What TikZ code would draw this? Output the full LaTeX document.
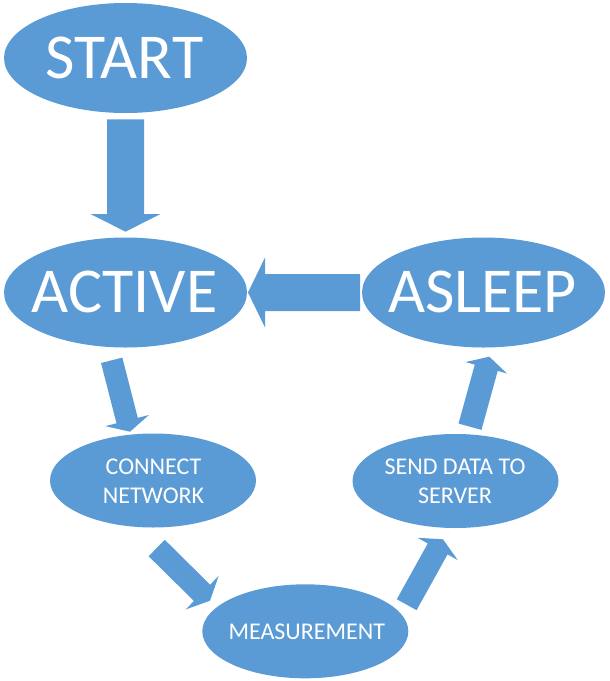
\documentclass[tikz,border=0pt]{standalone}
\usepackage{fontspec}
\setmainfont{Carlito}
\usetikzlibrary{calc,shapes.geometric}
\definecolor{officeblue}{HTML}{5B9BD5}
\tikzset{
  bigell/.style={ellipse,fill=officeblue,inner sep=0pt,minimum width=243pt,minimum height=110pt},
  smallell/.style={ellipse,fill=officeblue,inner sep=0pt,minimum width=206pt,minimum height=94pt},
  bigtxt/.style={inner sep=0pt,text=white,font=\fontsize{64}{77}\selectfont},
  smalltxt/.style={inner sep=0pt,text=white,align=center,font=\fontsize{24}{29.3}\selectfont},
  arrowfill/.style={fill=officeblue}
}
\newcommand\blockarrow[5]{%
  \coordinate (hb) at ($(#2)!#5!(#1)$);
  \fill[arrowfill] ($(#1)!#3!90:(#2)$) -- ($(hb)!#3!90:(#2)$) -- ($(hb)!#4!90:(#2)$) -- (#2)
    -- ($(hb)!#4!-90:(#2)$) -- ($(hb)!#3!-90:(#2)$) -- ($(#1)!#3!-90:(#2)$) -- cycle;
}
\begin{document}
\begin{tikzpicture}[x=1pt,y=-1pt]
\useasboundingbox (0,0) rectangle (610,681);
% ellipses
\node[bigell] (start) at (125.5,58) {};
\node[bigell] (active) at (125.5,292.5) {};
\node[bigell] (asleep) at (483.5,292.5) {};
\node[smallell] (connect) at (153,480.5) {};
\node[smallell] (send) at (455.5,481) {};
\node[smallell] (meas) at (305.3,631.3) {};
% labels
\node[bigtxt] (startl) at (124.5,58) {START};
\node[bigtxt] (activel) at (124.5,291.5) {ACTIVE};
\node[bigtxt] (asleepl) at (482.5,291.5) {ASLEEP};
\node[smalltxt] (connectl) at (153.5,481.3) {CONNECT\\NETWORK};
\node[smalltxt] (sendl) at (455,481.3) {SEND DATA TO\\SERVER};
\node[smalltxt] (measl) at (306.8,631.7) {MEASUREMENT};
% arrow end points
\coordinate (a1s) at (125.5,119.3);
\coordinate (a1t) at (125.5,231.7);
\coordinate (a2s) at (360,292.5);
\coordinate (a2t) at (248,292.5);
\coordinate (a3s) at (111.7,360.3);
\coordinate (a3t) at (130,431.7);
\coordinate (a4s) at (156.7,548);
\coordinate (a4t) at (210,600.7);
\coordinate (a5s) at (406.7,604.7);
\coordinate (a5t) at (443,539.3);
\coordinate (a6s) at (470,426.7);
\coordinate (a6t) at (489.3,356.7);
% block arrows
\blockarrow{a1s}{a1t}{18.5pt}{35pt}{17.7pt}
\blockarrow{a2s}{a2t}{18.5pt}{35pt}{17pt}
\blockarrow{a3s}{a3t}{11pt}{22.5pt}{11.5pt}
\blockarrow{a4s}{a4t}{11.5pt}{23.5pt}{11.2pt}
\blockarrow{a5s}{a5t}{11.3pt}{23pt}{11pt}
\blockarrow{a6s}{a6t}{11.9pt}{21.5pt}{11.5pt}
\end{tikzpicture}
\end{document}
